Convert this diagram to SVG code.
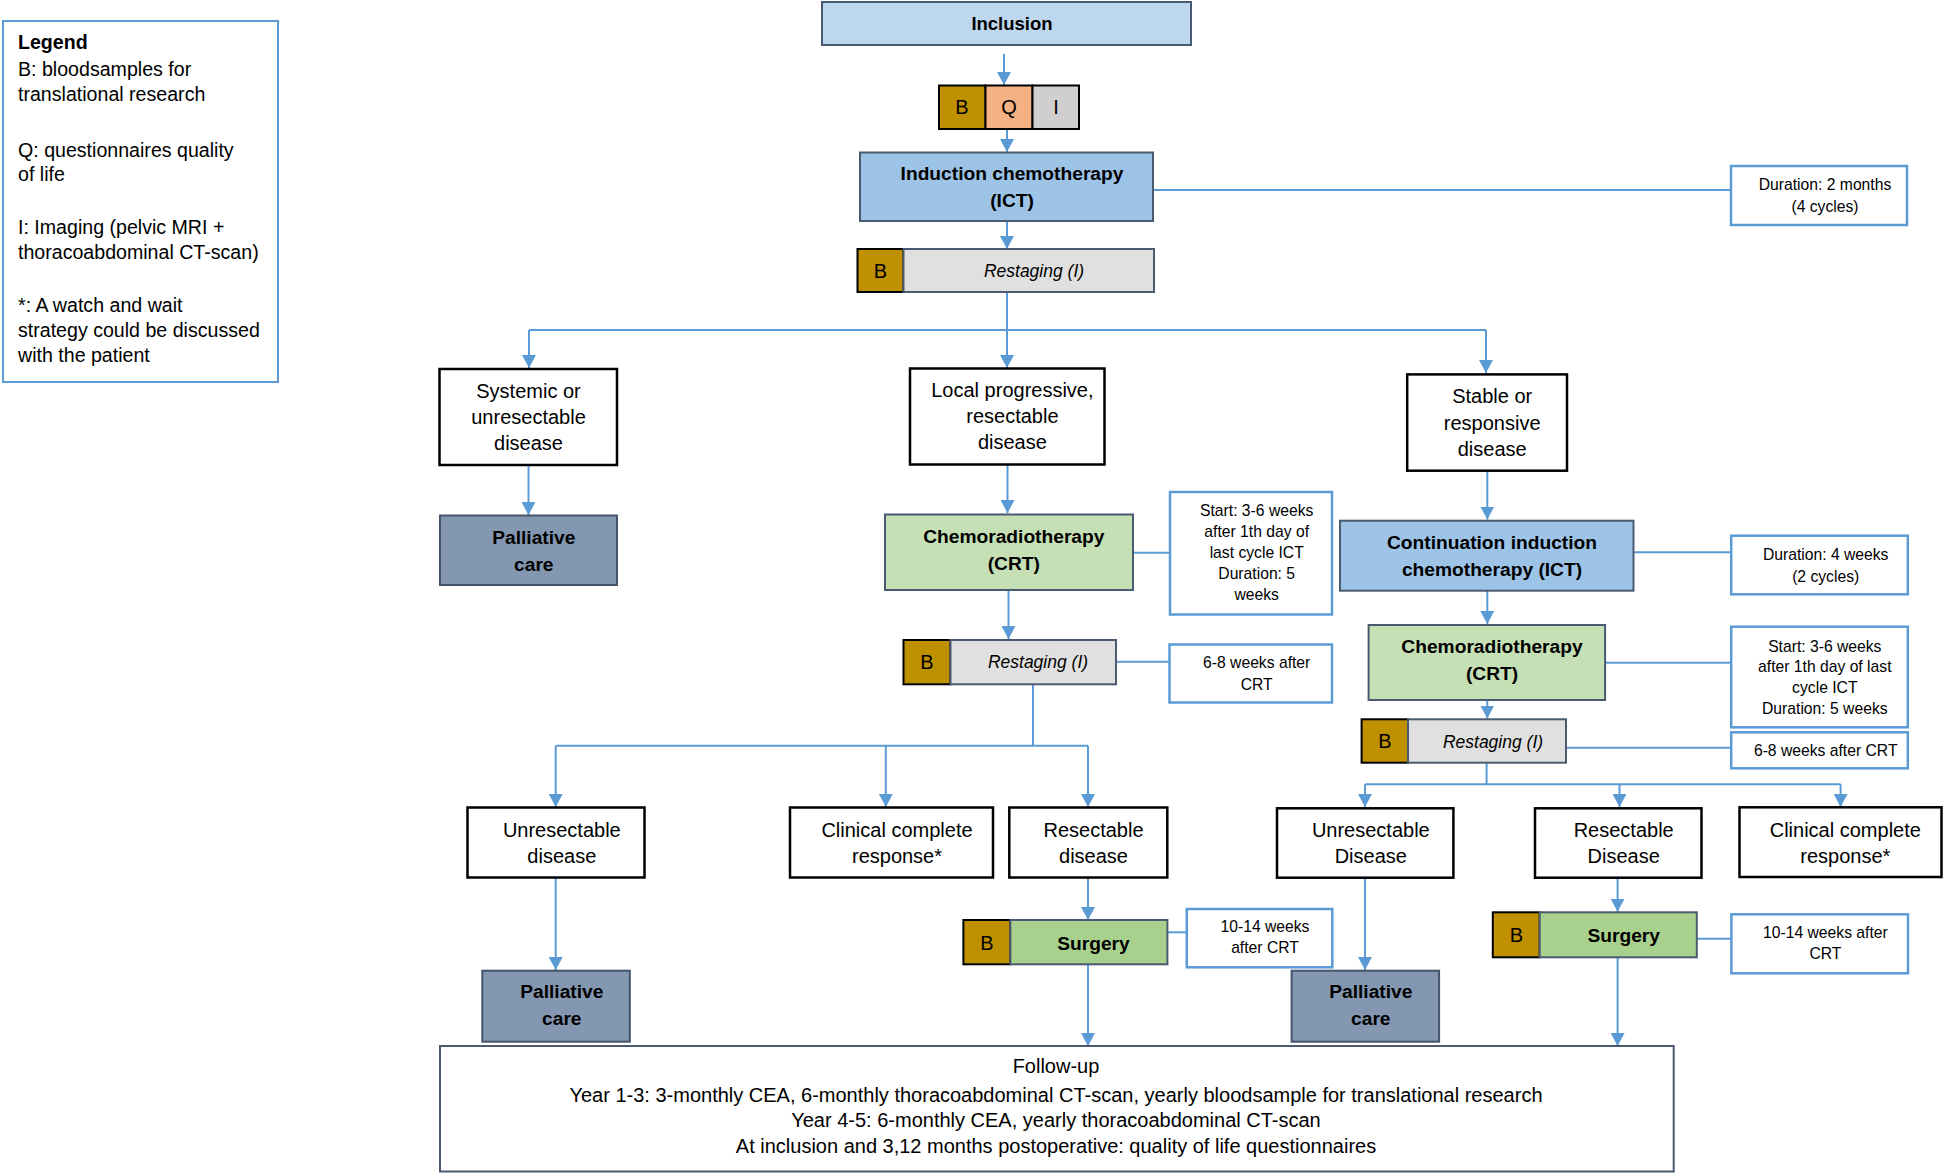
<svg xmlns="http://www.w3.org/2000/svg" width="1944" height="1174" viewBox="0 0 1944 1174">
<style>
.bg{fill:#fff}
.w{fill:#fff;stroke:#000;stroke-width:2.5}
.note{fill:#fff;stroke:#5b9bd5;stroke-width:2.5}
.incl{fill:#bdd7ee;stroke:#4a5a70;stroke-width:2}
.ict{fill:#9dc3e6;stroke:#4a5a70;stroke-width:2}
.crt{fill:#c5e0b4;stroke:#4a5a70;stroke-width:2}
.surg{fill:#a9d18e;stroke:#4a5a70;stroke-width:2}
.pall{fill:#8497b0;stroke:#44546a;stroke-width:2}
.b{fill:#bf9000;stroke:#000;stroke-width:2}
.q{fill:#f4b183;stroke:#000;stroke-width:2}
.i{fill:#d0cece;stroke:#000;stroke-width:2}
.rs{fill:#e0e0e0;stroke:#4a5a70;stroke-width:2}
.fu{fill:#fff;stroke:#4a5a70;stroke-width:2}
.leg{fill:#fff;stroke:#5b9bd5;stroke-width:2}
text{font-family:"Liberation Sans",Arial,sans-serif;fill:#000}
.t{font-size:20px;text-anchor:middle}
.tb{font-size:19.2px;font-weight:bold;text-anchor:middle}
.ts{font-size:15.7px;text-anchor:middle}
.ti{font-size:17.5px;font-style:italic;text-anchor:middle}
.tl{font-size:19.6px}
.tL{font-size:20px;text-anchor:middle}
.c{fill:none;stroke:#5b9bd5;stroke-width:2}
</style>
<defs>
<marker id="ah" markerUnits="userSpaceOnUse" markerWidth="14" markerHeight="14" refX="13" refY="7" orient="auto">
<path d="M0,0 L13,7 L0,14 z" fill="#5b9bd5"/>
</marker>
</defs>
<rect class="bg" x="0" y="0" width="1944" height="1174"/>

<g id="connectors">
<path class="c" d="M1004,54 V85" marker-end="url(#ah)"/>
<path class="c" d="M1007,129 V152" marker-end="url(#ah)"/>
<path class="c" d="M1007,221 V249" marker-end="url(#ah)"/>
<path class="c" d="M1007,292 V368" marker-end="url(#ah)"/>
<path class="c" d="M529,330 H1486"/>
<path class="c" d="M529,330 V368" marker-end="url(#ah)"/>
<path class="c" d="M1486,330 V373" marker-end="url(#ah)"/>
<path class="c" d="M528.5,465 V515" marker-end="url(#ah)"/>
<path class="c" d="M1007.5,464 V513" marker-end="url(#ah)"/>
<path class="c" d="M1008.5,590 V639" marker-end="url(#ah)"/>
<path class="c" d="M1033,684 V745.7"/>
<path class="c" d="M555.7,745.7 H1088"/>
<path class="c" d="M555.7,745.7 V807" marker-end="url(#ah)"/>
<path class="c" d="M885.8,745.7 V807" marker-end="url(#ah)"/>
<path class="c" d="M1088,745.7 V807" marker-end="url(#ah)"/>
<path class="c" d="M555.7,877.7 V970" marker-end="url(#ah)"/>
<path class="c" d="M1088,877.7 V920" marker-end="url(#ah)"/>
<path class="c" d="M1088,964 V1046" marker-end="url(#ah)"/>
<path class="c" d="M1487.3,470.7 V519.5" marker-end="url(#ah)"/>
<path class="c" d="M1487.3,590.7 V624" marker-end="url(#ah)"/>
<path class="c" d="M1487.3,700 V718.5" marker-end="url(#ah)"/>
<path class="c" d="M1486.6,762.7 V784.3"/>
<path class="c" d="M1365,784.3 H1840.6"/>
<path class="c" d="M1365,784.3 V807" marker-end="url(#ah)"/>
<path class="c" d="M1619.5,784.3 V807" marker-end="url(#ah)"/>
<path class="c" d="M1840.6,784.3 V807" marker-end="url(#ah)"/>
<path class="c" d="M1365,877.7 V970" marker-end="url(#ah)"/>
<path class="c" d="M1617.6,877.7 V911.7" marker-end="url(#ah)"/>
<path class="c" d="M1617.6,957.3 V1046" marker-end="url(#ah)"/>
<path class="c" d="M1153,190 H1731"/>
<path class="c" d="M1133,552.7 H1170"/>
<path class="c" d="M1116,661.7 H1170"/>
<path class="c" d="M1167.4,932.3 H1186.8"/>
<path class="c" d="M1633.5,552.3 H1731"/>
<path class="c" d="M1605,662.7 H1731"/>
<path class="c" d="M1566,747.7 H1731"/>
<path class="c" d="M1696.8,938.7 H1731"/>
</g>

<g id="legend">
<rect class="leg" x="3" y="21" width="275" height="361"/>
<text class="tl" x="18" y="49" font-weight="bold">Legend</text>
<text class="tl" x="18" y="76">B: bloodsamples for</text>
<text class="tl" x="18" y="101">translational research</text>
<text class="tl" x="18" y="157">Q: questionnaires quality</text>
<text class="tl" x="18" y="181">of life</text>
<text class="tl" x="18" y="234">I: Imaging (pelvic MRI +</text>
<text class="tl" x="18" y="259">thoracoabdominal CT-scan)</text>
<text class="tl" x="18" y="312">*: A watch and wait</text>
<text class="tl" x="18" y="337">strategy could be discussed</text>
<text class="tl" x="18" y="362">with the patient</text>
</g>

<g id="inclusion">
<rect class="incl" x="822" y="2" width="369" height="43"/>
<text class="tb" x="1012" y="30" style="font-size:18.5px">Inclusion</text>
</g>

<g id="bqi">
<rect class="b" x="939" y="85.5" width="46.5" height="43.5"/>
<rect class="q" x="985.5" y="85.5" width="47" height="43.5"/>
<rect class="i" x="1032.5" y="85.5" width="46.5" height="43.5"/>
<text class="t" x="962" y="114.3">B</text>
<text class="t" x="1009" y="114.3">Q</text>
<text class="t" x="1056" y="114.3">I</text>
</g>

<g id="ict">
<rect class="ict" x="860" y="152.5" width="293" height="68.5"/>
<text class="tb" x="1012" y="180">Induction chemotherapy</text>
<text class="tb" x="1012" y="207">(ICT)</text>
</g>

<g id="note-ict">
<rect class="note" x="1731" y="166" width="176" height="59"/>
<text class="ts" x="1825" y="190">Duration: 2 months</text>
<text class="ts" x="1825" y="211.5">(4 cycles)</text>
</g>

<g id="restaging1">
<rect class="b" x="857.5" y="249" width="46" height="43"/>
<rect class="rs" x="903.5" y="249" width="250.5" height="43"/>
<text class="t" x="880.5" y="278">B</text>
<text class="ti" x="1034" y="277">Restaging (I)</text>
</g>

<g id="systemic">
<rect class="w" x="439.5" y="369" width="177.5" height="96"/>
<text class="t" x="528.5" y="398.3">Systemic or</text>
<text class="t" x="528.5" y="424.3">unresectable</text>
<text class="t" x="528.5" y="450.3">disease</text>
</g>

<g id="palliative1">
<rect class="pall" x="440" y="515.5" width="177" height="69.5"/>
<text class="tb" x="533.8" y="544.3">Palliative</text>
<text class="tb" x="533.8" y="570.5">care</text>
</g>

<g id="local">
<rect class="w" x="910" y="368.5" width="194.5" height="96"/>
<text class="t" x="1012.4" y="396.7">Local progressive,</text>
<text class="t" x="1012.4" y="422.7">resectable</text>
<text class="t" x="1012.4" y="449.3">disease</text>
</g>

<g id="crt1">
<rect class="crt" x="885" y="514.5" width="248" height="75.5"/>
<text class="tb" x="1013.8" y="543.3">Chemoradiotherapy</text>
<text class="tb" x="1013.8" y="570">(CRT)</text>
</g>

<g id="note-crt1">
<rect class="note" x="1170" y="492" width="162" height="122.5"/>
<text class="ts" x="1256.7" y="516">Start: 3-6 weeks</text>
<text class="ts" x="1256.7" y="537.3">after 1th day of</text>
<text class="ts" x="1256.7" y="558.3">last cycle ICT</text>
<text class="ts" x="1256.7" y="579.3">Duration: 5</text>
<text class="ts" x="1256.7" y="600">weeks</text>
</g>

<g id="restaging2">
<rect class="b" x="903.5" y="640" width="47" height="44.3"/>
<rect class="rs" x="950.5" y="640" width="165.5" height="44.3"/>
<text class="t" x="927" y="668.5">B</text>
<text class="ti" x="1038" y="668.3">Restaging (I)</text>
</g>

<g id="note-rs2">
<rect class="note" x="1169.5" y="644.5" width="162.5" height="58"/>
<text class="ts" x="1256.7" y="668.3">6-8 weeks after</text>
<text class="ts" x="1256.7" y="690">CRT</text>
</g>

<g id="unres1">
<rect class="w" x="467.5" y="807.5" width="177" height="70"/>
<text class="t" x="561.8" y="836.7">Unresectable</text>
<text class="t" x="561.8" y="862.7">disease</text>
</g>

<g id="ccr1">
<rect class="w" x="790" y="807.5" width="203" height="70"/>
<text class="t" x="897" y="836.7">Clinical complete</text>
<text class="t" x="897" y="862.7">response*</text>
</g>

<g id="resect1">
<rect class="w" x="1009.3" y="807.5" width="158" height="70"/>
<text class="t" x="1093.5" y="836.7">Resectable</text>
<text class="t" x="1093.5" y="862.7">disease</text>
</g>

<g id="palliative2">
<rect class="pall" x="482.3" y="970.7" width="147.5" height="71"/>
<text class="tb" x="561.8" y="998.3">Palliative</text>
<text class="tb" x="561.8" y="1025">care</text>
</g>

<g id="surgery1">
<rect class="b" x="963.4" y="920" width="47" height="44.3"/>
<rect class="surg" x="1010.4" y="920" width="157" height="44.3"/>
<text class="t" x="986.9" y="950">B</text>
<text class="tb" x="1093.5" y="950">Surgery</text>
</g>

<g id="note-surg1">
<rect class="note" x="1186.8" y="909" width="145.5" height="58.3"/>
<text class="ts" x="1265" y="932.3">10-14 weeks</text>
<text class="ts" x="1265" y="953.3">after CRT</text>
</g>

<g id="stable">
<rect class="w" x="1407.2" y="374.4" width="159.8" height="96.3"/>
<text class="t" x="1492.2" y="403.3">Stable or</text>
<text class="t" x="1492.2" y="430">responsive</text>
<text class="t" x="1492.2" y="456">disease</text>
</g>

<g id="continuation">
<rect class="ict" x="1340" y="520.7" width="293.5" height="70"/>
<text class="tb" x="1492" y="549.3">Continuation induction</text>
<text class="tb" x="1492" y="576">chemotherapy (ICT)</text>
</g>

<g id="note-cont">
<rect class="note" x="1731.2" y="535.7" width="176.6" height="58.6"/>
<text class="ts" x="1825.7" y="560">Duration: 4 weeks</text>
<text class="ts" x="1825.7" y="581.7">(2 cycles)</text>
</g>

<g id="crt2">
<rect class="crt" x="1368.6" y="625" width="236.5" height="75"/>
<text class="tb" x="1492" y="653.3">Chemoradiotherapy</text>
<text class="tb" x="1492" y="680">(CRT)</text>
</g>

<g id="note-crt2">
<rect class="note" x="1731.2" y="626.7" width="176.6" height="100.6"/>
<text class="ts" x="1824.8" y="651.7">Start: 3-6 weeks</text>
<text class="ts" x="1824.8" y="672.2">after 1th day of last</text>
<text class="ts" x="1824.8" y="693.3">cycle ICT</text>
<text class="ts" x="1824.8" y="714.3">Duration: 5 weeks</text>
</g>

<g id="restaging3">
<rect class="b" x="1361.6" y="719.3" width="46.4" height="43.4"/>
<rect class="rs" x="1408" y="719.3" width="158" height="43.4"/>
<text class="t" x="1384.8" y="748.3">B</text>
<text class="ti" x="1493" y="748.3">Restaging (I)</text>
</g>

<g id="note-rs3">
<rect class="note" x="1731.2" y="732.3" width="176.6" height="36"/>
<text class="ts" x="1825.7" y="755.5">6-8 weeks after CRT</text>
</g>

<g id="unres2">
<rect class="w" x="1277" y="808.3" width="176.4" height="69.4"/>
<text class="t" x="1370.8" y="836.7">Unresectable</text>
<text class="t" x="1370.8" y="862.7">Disease</text>
</g>

<g id="resect2">
<rect class="w" x="1535" y="808.3" width="166.5" height="69.4"/>
<text class="t" x="1623.7" y="836.7">Resectable</text>
<text class="t" x="1623.7" y="862.7">Disease</text>
</g>

<g id="ccr2">
<rect class="w" x="1739.5" y="807.3" width="202" height="69.7"/>
<text class="t" x="1845.3" y="836.7">Clinical complete</text>
<text class="t" x="1845.3" y="862.7">response*</text>
</g>

<g id="palliative3">
<rect class="pall" x="1291.6" y="970.7" width="147.5" height="71"/>
<text class="tb" x="1370.8" y="998.3">Palliative</text>
<text class="tb" x="1370.8" y="1025">care</text>
</g>

<g id="surgery2">
<rect class="b" x="1492.8" y="912.3" width="46.9" height="45"/>
<rect class="surg" x="1539.7" y="912.3" width="157.1" height="45"/>
<text class="t" x="1516.3" y="941.7">B</text>
<text class="tb" x="1623.7" y="941.7">Surgery</text>
</g>

<g id="note-surg2">
<rect class="note" x="1731.4" y="914.3" width="176.6" height="59"/>
<text class="ts" x="1825.4" y="938.3">10-14 weeks after</text>
<text class="ts" x="1825.4" y="959.3">CRT</text>
</g>

<g id="followup">
<rect class="fu" x="440" y="1046" width="1233.7" height="125.5"/>
<text class="tL" x="1056" y="1073.3">Follow-up</text>
<text class="tL" x="1056" y="1101.7">Year 1-3: 3-monthly CEA, 6-monthly thoracoabdominal CT-scan, yearly bloodsample for translational research</text>
<text class="tL" x="1056" y="1127">Year 4-5: 6-monthly CEA, yearly thoracoabdominal CT-scan</text>
<text class="tL" x="1056" y="1153.3">At inclusion and 3,12 months postoperative: quality of life questionnaires</text>
</g>
</svg>
